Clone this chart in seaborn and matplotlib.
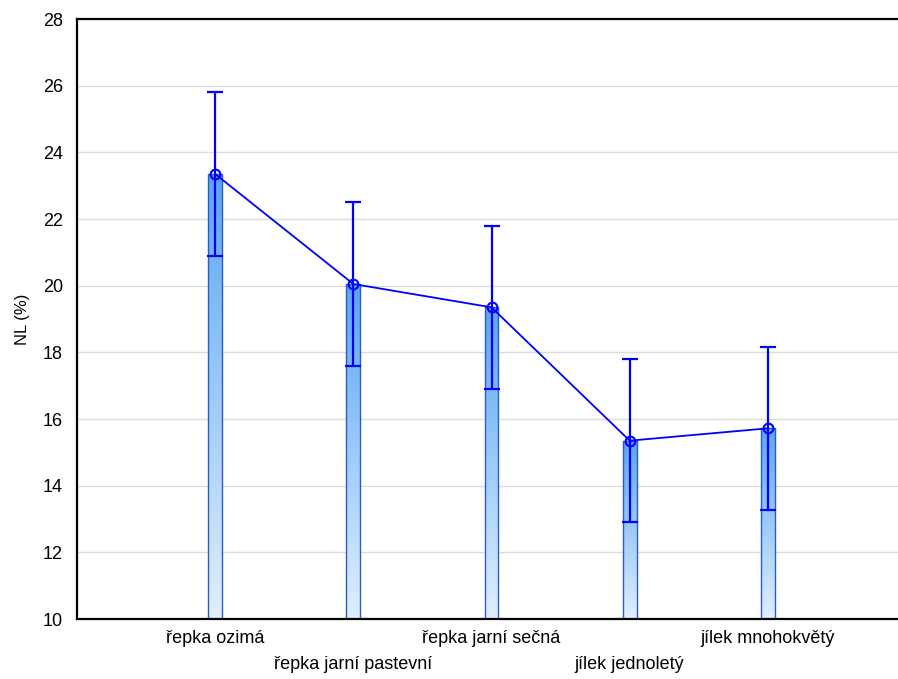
import numpy as np
import pandas as pd
import seaborn as sns
import matplotlib.pyplot as plt
from matplotlib.colors import LinearSegmentedColormap

# data
categories = ["řepka ozimá", "řepka jarní pastevní", "řepka jarní sečná",
              "jílek jednoletý", "jílek mnohokvětý"]
means = [23.35, 20.05, 19.35, 15.35, 15.72]
errors = [2.45, 2.45, 2.45, 2.45, 2.45]

df = pd.DataFrame({"plodina": categories, "NL": means})

sns.set_style("white")
plt.rcParams["font.family"] = ["Liberation Sans", "DejaVu Sans"]
plt.rcParams["text.color"] = "black"
plt.rcParams["xtick.color"] = "black"
plt.rcParams["ytick.color"] = "black"
plt.rcParams["axes.labelcolor"] = "black"

fig = plt.figure(figsize=(8.98, 6.79), dpi=100)
ax = fig.add_axes([77 / 898, 60 / 679, 829 / 898, 600 / 679])

ymin, ymax = 10, 28
sns.barplot(data=df, x="plodina", y="NL", width=0.1, color="#8cc3f5",
            edgecolor="#2a5bc8", linewidth=1.0, ax=ax, zorder=2)

# gradient fill inside each bar
cmap = LinearSegmentedColormap.from_list("bar", ["#e0efff", "#5aa6f2"])
grad = np.linspace(0, 1, 256).reshape(-1, 1)
for patch in ax.patches:
    x0, w, h = patch.get_x(), patch.get_width(), patch.get_height()
    im = ax.imshow(grad, extent=[x0, x0 + w, ymin, h], origin="lower",
                   cmap=cmap, aspect="auto", zorder=2.1)
    im.set_clip_path(patch)
    patch.set_facecolor("none")
    patch.set_zorder(2.2)

pos = np.arange(len(categories))
ax.errorbar(pos, means, yerr=errors, fmt="none", ecolor="#0000ff",
            elinewidth=1.6, capsize=5.5, capthick=1.6, zorder=3)
ax.plot(pos, means, color="#0000ff", lw=1.3, marker="o", ms=7,
        mfc="none", mec="#0000ff", mew=1.5, zorder=4)

ax.set_xlim(-1, 5)
ax.set_ylim(ymin, ymax)
ax.set_yticks(np.arange(10, 29, 2))
ax.yaxis.grid(True, color="#dcdcdc", lw=1)
ax.set_axisbelow(True)

ax.set_xticks(pos)
ax.set_xticklabels([c if i % 2 == 0 else "\n" + c for i, c in enumerate(categories)],
                   fontsize=13, linespacing=1.7)
ax.tick_params(axis="x", direction="in", length=4, width=1, pad=8)
ax.tick_params(axis="y", direction="in", length=4, width=1, labelsize=13, pad=10)
ax.set_xlabel("")
ax.set_ylabel("NL (%)", fontsize=12)
ax.yaxis.set_label_coords(-0.057, 0.5)

for s in ["left", "bottom", "top"]:
    ax.spines[s].set_visible(True)
    ax.spines[s].set_color("black")
    ax.spines[s].set_linewidth(1.6)
ax.spines["right"].set_visible(False)

fig.savefig("out.png", dpi=100)
